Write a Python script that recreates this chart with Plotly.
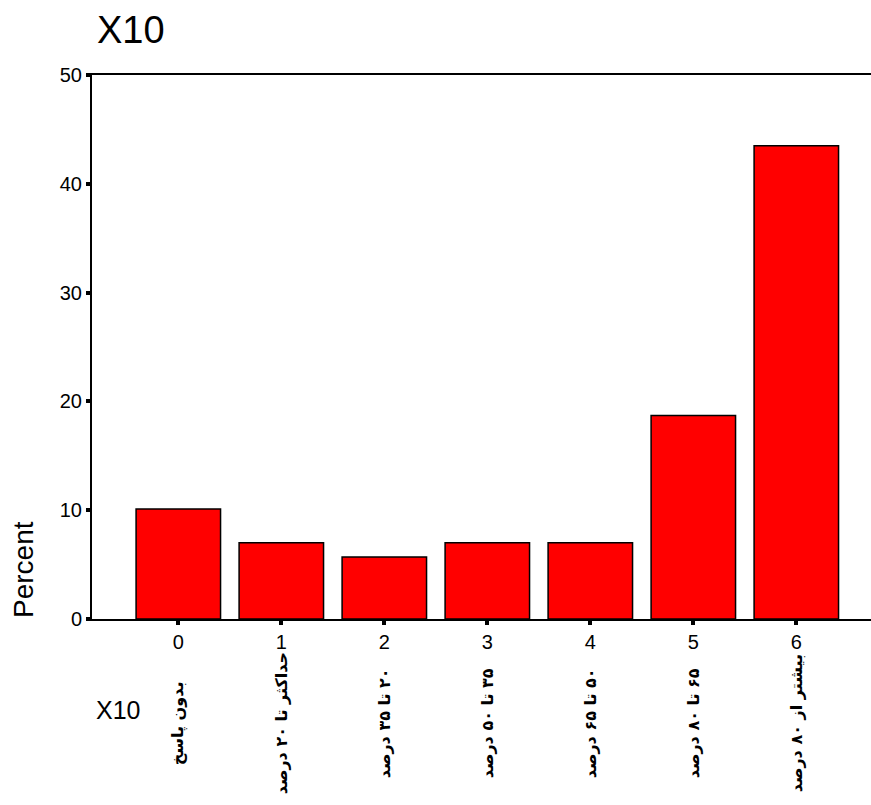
import plotly.graph_objects as go

categories = [0, 1, 2, 3, 4, 5, 6]
percent = [10.1, 7.0, 5.7, 7.0, 7.0, 18.7, 43.5]
category_labels = [
    "بدون پاسخ",
    "حداکثر تا ۲۰ درصد",
    "۲۰ تا ۳۵ درصد",
    "۳۵ تا ۵۰ درصد",
    "۵۰ تا ۶۵ درصد",
    "۶۵ تا ۸۰ درصد",
    "بیشتر از ۸۰ درصد",
]
y_ticks = [0, 10, 20, 30, 40, 50]

W, H = 871, 805
L, T, B, R = 92, 75, 186, 0
PW, PH = W - L - R, H - T - B

fig = go.Figure()
fig.add_trace(go.Bar(
    x=categories, y=percent,
    marker=dict(color="#FF0000", line=dict(color="#000000", width=1.5)),
    width=0.82,
))

RLM = "\u200F"
annotations = []
for c, lab in zip(categories, category_labels):
    annotations.append(dict(
        x=c, xref="x", y=(619 - 723) / PH, yref="paper",
        text=RLM + lab + RLM, textangle=-90, showarrow=False,
        xanchor="center", yanchor="middle",
        font=dict(family="DejaVu Sans", size=16, weight="bold", color="#000000"),
    ))

annotations += [
    dict(x=(95 - L) / PW, xref="paper", y=(619 - 30) / PH, yref="paper",
         text="X10", showarrow=False, xanchor="left", yanchor="middle",
         font=dict(family="Arial, Liberation Sans", size=38, color="#000000")),
    dict(x=(23 - L) / PW, xref="paper", y=(619 - 570) / PH, yref="paper",
         text="Percent", textangle=-90, showarrow=False,
         xanchor="center", yanchor="middle",
         font=dict(family="Arial, Liberation Sans", size=28, color="#000000")),
    dict(x=(94 - L) / PW, xref="paper", y=(619 - 710) / PH, yref="paper",
         text="X10", showarrow=False, xanchor="left", yanchor="middle",
         font=dict(family="Arial, Liberation Sans", size=25, color="#000000")),
]

fig.update_layout(
    width=W, height=H,
    margin=dict(l=L, r=R, t=T, b=B, pad=0),
    paper_bgcolor="white", plot_bgcolor="white",
    showlegend=False,
    annotations=annotations,
    font=dict(family="Arial, Liberation Sans", color="#000000"),
    xaxis=dict(
        range=[-0.838, 6.725], tickmode="array", tickvals=categories,
        ticktext=[str(c) for c in categories],
        showgrid=False, zeroline=False,
        showline=True, linecolor="#000000", linewidth=2, mirror=True,
        ticks="outside", ticklen=4, tickwidth=4, tickcolor="#000000",
        tickfont=dict(size=20), ticklabelstandoff=0,
    ),
    yaxis=dict(
        range=[0, 50], tickmode="array", tickvals=y_ticks,
        showgrid=False, zeroline=False,
        showline=True, linecolor="#000000", linewidth=2,
        ticks="outside", ticklen=4, tickwidth=4, tickcolor="#000000",
        tickfont=dict(size=20), ticklabelstandoff=0,
    ),
)

fig.write_html(
    "out.html",
    config={"displayModeBar": False},
    post_script="document.body.style.margin='0';document.body.style.overflow='hidden';",
)
